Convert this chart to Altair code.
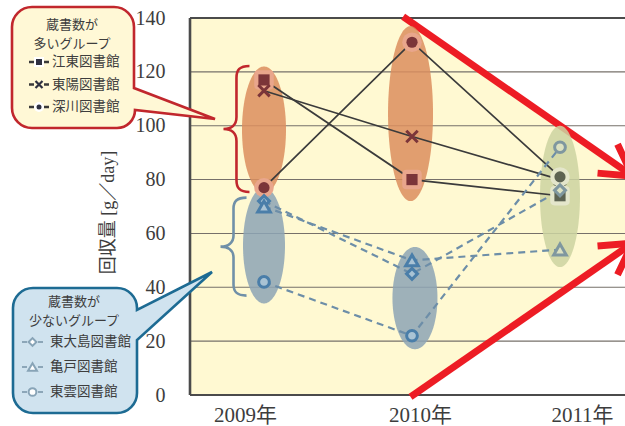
import math

import altair as alt
import numpy as np
import pandas as pd

# ---- data ---------------------------------------------------------------
years = [2009, 2010, 2011]

large_names = ["江東図書館", "東陽図書館", "深川図書館"]
koto = [117, 80, 74]
toyo = [113, 96, 80]
fukagawa = [77, 131, 81]

small_names = ["東大島図書館", "亀戸図書館", "東雲図書館"]
higashi_ojima = [72, 45, 76]
kameido = [70, 50, 54]
shinonome = [42, 22, 92]

y_ticks = [0, 20, 40, 60, 80, 100, 120, 140]
grid_values = [20, 40, 60, 80, 100, 120]
x_ticks = [2009, 2010, 2011]
axis_title = "回収量 [g／day]"
large_title = ["蔵書数が", "多いグループ"]
small_title = ["蔵書数が", "少ないグループ"]

# value spans ringed in each year (centre year, low, high, group)
ring_year = [2009, 2009.99, 2009, 2010.02, 2011]
ring_low = [75, 72, 34, 17, 47.5]
ring_high = [122, 137, 77, 55, 100]
ring_kind = ["多", "多", "少", "少", "後"]

# converging trend arrows: start (year, value) and tip (year, value)
arrow_x0 = [2009.94, 2009.99]
arrow_y0 = [140.5, -0.7]
arrow_x1 = [2011.49, 2011.49]
arrow_y1 = [81.3, 56.4]

# braces beside the 2009 groups (centre year, centre value)
brace_kind = ["多", "少"]
brace_x = [2008.814, 2008.794]
brace_y = [98.8, 55.1]

# ---- layout & styles ------------------------------------------------------
W, H = 435, 377
LEFT, TOP, BOTTOM = 190, 18, 31
PX_PER_YEAR = 148
X_MIN = 2008.5
X_MAX = X_MIN + W / PX_PER_YEAR
Y_MAX = 140
PX_PER_VAL = H / Y_MAX

# year labels sit a little off their marker columns
LABEL_SHIFT_PX = [-19, 8, 22]

FONT_JP = "Noto Sans CJK JP"
FONT_NUM = "Liberation Serif"
TEXT = "#3d3d3d"
RED = "#ED1C24"
PLOT_BG = "#FFF9D2"

RING_HALF_PX = [22, 22.5, 21, 22.5, 20]
RING_COLORS = {"多": "#DC8E5E", "少": "#8DA5B5", "後": "#CCD3A1"}

X_PATH = "M -1 -1 L 1 1 M -1 1 L 1 -1"
ROUND_SQ = ("M -0.55 -1 L 0.55 -1 Q 1 -1 1 -0.55 L 1 0.55 Q 1 1 0.55 1 "
            "L -0.55 1 Q -1 1 -1 0.55 L -1 -0.55 Q -1 -1 -0.55 -1 Z")
CHEVRON = "M -1 -0.577 L 0 0 L -1 0.577"

# brace outlines in pixel units (drawn with size 4 -> 1 unit = 1 px)
BRACE_PATHS = [
    "M 13 -63 C 3 -63 0 -59 0 -51 L 0 -12 C 0 -4 -5 0 -13 0 "
    "C -5 0 0 4 0 12 L 0 51 C 0 59 3 63 13 63",
    "M 13 -49 C 3 -49 0 -45 0 -38 L 0 -11 C 0 -4 -5 0 -13 0 "
    "C -5 0 0 4 0 11 L 0 38 C 0 45 3 49 13 49",
]
BRACE_COLORS = ["#C1272D", "#7090A8"]

# callout outlines in page pixels
BOX_LARGE = ("M 32 7 L 114 7 A 20 20 0 0 1 134 27 L 134 88 L 215 119 L 135 110 "
             "A 18 18 0 0 1 117 128 L 32 128 A 20 20 0 0 1 12 108 L 12 27 "
             "A 20 20 0 0 1 32 7 Z")
BOX_SMALL = ("M 33 288 L 117 288 A 20 20 0 0 1 137 308 L 137 310 L 212 272 "
             "L 137 340 L 137 393 A 20 20 0 0 1 117 413 L 33 413 "
             "A 20 20 0 0 1 13 393 L 13 308 A 20 20 0 0 1 33 288 Z")

xs = alt.Scale(domain=[X_MIN, X_MAX], nice=False, zero=False)
ys = alt.Scale(domain=[0, Y_MAX], nice=False, zero=False)

x_label_at = [yr + s / PX_PER_YEAR for yr, s in zip(x_ticks, LABEL_SHIFT_PX)]

x_axis = alt.Axis(values=x_label_at, labelExpr="round(datum.value) + '年'", grid=False,
                  ticks=False, tickSize=0, domain=False,
                  labelFont=f"{FONT_NUM}, {FONT_JP}", labelFontSize=21,
                  labelColor=TEXT, labelPadding=9, labelFlush=False,
                  labelOverlap=False, title=None, zindex=1)
y_axis = alt.Axis(values=y_ticks, grid=False, ticks=False, tickSize=0,
                  domain=False, labelFont=FONT_NUM, labelFontSize=20,
                  labelColor=TEXT, labelPadding=25, labelFlush=False,
                  labelOverlap=False,
                  title=axis_title, titleFont=f"{FONT_NUM}, {FONT_JP}",
                  titleFontSize=18, titleFontWeight="normal", titleColor=TEXT,
                  titleAngle=270, titleX=-82, titleY=194, titleAlign="center",
                  titleBaseline="middle", zindex=1)


# every layer carries the same axis definition so the shared axes merge cleanly
def X(field):
    return alt.X(field, type="quantitative", scale=xs, axis=x_axis)


def Y(field):
    return alt.Y(field, type="quantitative", scale=ys, axis=y_axis)


def pick(keys, vals):
    """Vega expression choosing a value by datum.name."""
    expr = repr(vals[-1])
    for k, v in zip(reversed(keys[:-1]), reversed(vals[:-1])):
        expr = f"(datum.name === '{k}' ? {v!r} : {expr})"
    return expr


# ---- tables built from the arrays -----------------------------------------
rows = []
for grp, names, seqs in [("多", large_names, [koto, toyo, fukagawa]),
                         ("少", small_names, [higashi_ojima, kameido, shinonome])]:
    for name, seq in zip(names, seqs):
        for yr, v in zip(years, seq):
            rows.append({"name": name, "grp": grp, "year": yr, "value": v})
series = pd.DataFrame(rows)

arrows = pd.DataFrame({"x0": arrow_x0, "y0": arrow_y0,
                       "x1": arrow_x1, "y1": arrow_y1})
arrows["angle"] = [
    math.degrees(math.atan2(-(b1 - b0) * PX_PER_VAL, (a1 - a0) * PX_PER_YEAR)) % 360
    for a0, b0, a1, b1 in zip(arrow_x0, arrow_y0, arrow_x1, arrow_y1)
]

# plain-white wedges outside the arrows
wedges = pd.DataFrame({
    "id": [0, 0, 1, 1],
    "x": [arrow_x0[0], arrow_x1[0], arrow_x0[1], arrow_x1[1]],
    "edge": [arrow_y0[0], arrow_y1[0], arrow_y0[1], arrow_y1[1]],
    "outer": [Y_MAX, Y_MAX, 0, 0],
})

ring_rows = []
angles = np.linspace(0, np.pi, 91)
for k, (cx, lo, hi, kind, hw) in enumerate(
        zip(ring_year, ring_low, ring_high, ring_kind, RING_HALF_PX)):
    mid, half = (lo + hi) / 2, (hi - lo) / 2
    a = hw / PX_PER_YEAR
    for t in angles:
        ring_rows.append({"ring": k, "kind": kind, "x": cx - a * math.cos(t),
                          "top": mid + half * math.sin(t),
                          "bottom": mid - half * math.sin(t)})
rings = pd.DataFrame(ring_rows)

braces = pd.DataFrame({"kind": brace_kind, "x": brace_x, "y": brace_y})

# ---- plot-area layers -------------------------------------------------------
white = alt.Chart(wedges).mark_area(color="white", opacity=1).encode(
    x=X("x"), y=Y("edge"), y2="outer", detail="id:N")

grid = alt.Chart(pd.DataFrame({"v": grid_values})).mark_rule(
    color="#76706a", strokeWidth=1.1).encode(y=Y("v"))

frame_h = alt.Chart(pd.DataFrame({"v": [0, Y_MAX]})).mark_rule(
    color="#4b4b4b", strokeWidth=2.2).encode(y=Y("v"))
frame_v = alt.Chart(pd.DataFrame({"x": [X_MIN]})).mark_rule(
    color="#4b4b4b", strokeWidth=2.6).encode(x=X("x"))

shafts = alt.Chart(arrows).mark_rule(color=RED, strokeWidth=7, strokeCap="butt").encode(
    x=X("x0"), y=Y("y0"), x2="x1", y2="y1")
heads = alt.Chart(arrows).mark_point(
    shape=CHEVRON, size=3700, filled=False, color=RED, strokeWidth=7,
    opacity=1, strokeJoin="miter").encode(
    x=X("x1"), y=Y("y1"), angle=alt.Angle("angle:Q", scale=None))

ring_layer = alt.Chart(rings).mark_area(opacity=0.85).encode(
    x=X("x"), y=Y("top"), y2="bottom", detail="ring:N",
    color=alt.Color("kind:N", scale=alt.Scale(domain=list(RING_COLORS),
                                              range=list(RING_COLORS.values())),
                    legend=None))

brace_layer = alt.Chart(braces).mark_point(
    size=4, filled=False, strokeWidth=2.6, opacity=1).encode(
    x=X("x"), y=Y("y"),
    shape=alt.Shape("kind:N", scale=alt.Scale(domain=brace_kind, range=BRACE_PATHS),
                    legend=None),
    color=alt.Color("kind:N", scale=alt.Scale(domain=brace_kind, range=BRACE_COLORS),
                    legend=None))

base = alt.Chart(series).transform_calculate(
    phase="datum.year == 2011 ? 'late' : 'early'")

solid = base.transform_filter("datum.grp == '多'").mark_line(
    color="#3b3b3b", strokeWidth=1.7).encode(
    x=X("year"), y=Y("value"), detail="name:N")
dashed = base.transform_filter("datum.grp == '少'").mark_line(
    color="#6d8ea8", strokeWidth=2.2, strokeDash=[7, 5]).encode(
    x=X("year"), y=Y("value"), detail="name:N")

phase_dom = ["early", "late"]
dark_scale = alt.Scale(domain=phase_dom, range=["#7B3539", "#5D6352"])
haloed = [large_names[0], large_names[2]]

halos = base.transform_filter(
    alt.FieldOneOfPredicate(field="name", oneOf=haloed)
).mark_point(filled=True, opacity=1, size=380).encode(
    x=X("year"), y=Y("value"),
    shape=alt.Shape("name:N", scale=alt.Scale(domain=haloed, range=[ROUND_SQ, "circle"]),
                    legend=None),
    color=alt.Color("phase:N", scale=alt.Scale(domain=phase_dom,
                                               range=["#E9A68C", "#E4E6CB"]), legend=None))


def x_layer(filter_expr):
    return base.transform_filter(
        f"datum.name == '{large_names[1]}' && {filter_expr}").mark_point(
        shape=X_PATH, filled=False, size=130, strokeWidth=3, opacity=1).encode(
        x=X("year"), y=Y("value"),
        color=alt.Color("phase:N", scale=dark_scale, legend=None))


x_late = x_layer("datum.year == 2011")
x_early = x_layer("datum.year < 2011")

solid_marks = base.transform_filter(
    alt.FieldOneOfPredicate(field="name", oneOf=haloed)
).mark_point(filled=True, opacity=1, size=125).encode(
    x=X("year"), y=Y("value"),
    shape=alt.Shape("name:N", scale=alt.Scale(domain=haloed, range=["square", "circle"]),
                    legend=None),
    color=alt.Color("phase:N", scale=dark_scale, legend=None))

open_marks = base.transform_filter("datum.grp == '少'").transform_calculate(
    sz=pick(small_names, [120, 160, 115])
).mark_point(opacity=1, strokeWidth=3).encode(
    x=X("year"), y=Y("value"),
    shape=alt.Shape("name:N", scale=alt.Scale(domain=small_names,
                                              range=["diamond", "triangle-up", "circle"]),
                    legend=None),
    size=alt.Size("sz:Q", scale=None),
    fill=alt.Fill("phase:N", scale=alt.Scale(domain=phase_dom,
                                             range=["#A9C3D4", "#DCE1C0"]), legend=None),
    stroke=alt.Stroke("phase:N", scale=alt.Scale(domain=phase_dom,
                                                 range=["#4A7EA9", "#7F979F"]), legend=None))


# ---- callouts (placed in page pixels, left of the plot) --------------------
def one_row():
    return alt.Chart(pd.DataFrame({"k": [0]}))


def box(path, fill, stroke):
    return one_row().mark_point(
        shape=path, size=4, filled=True, fill=fill, stroke=stroke,
        strokeWidth=2.6, opacity=1, strokeJoin="miter").encode(
        x=alt.value(-LEFT), y=alt.value(-TOP))


def rows_of(names, y0, dy):
    df = pd.DataFrame({"name": names, "i": list(range(len(names)))})
    return alt.Chart(df).transform_calculate(py=f"{y0 - TOP} + datum.i * {dy}")


def lines_of(texts, cx, y0, dy, align, size):
    return rows_of(texts, y0, dy).mark_text(
        font=FONT_JP, fontSize=size, color=TEXT, align=align,
        baseline="middle").encode(
        x=alt.value(cx - LEFT), y=alt.Y("py:Q", scale=None, axis=None), text="name:N")


def dashes(names, x0, x1, y0, dy, dash, color, width):
    return rows_of(names, y0, dy).mark_rule(
        color=color, strokeWidth=width, strokeDash=dash).encode(
        x=alt.value(x0 - LEFT), x2=alt.value(x1 - LEFT),
        y=alt.Y("py:Q", scale=None, axis=None))


def glyphs(names, cx, y0, dy, shapes, sizes, filled, fill, stroke, width):
    return rows_of(names, y0, dy).transform_calculate(
        sz=pick(names, sizes)).mark_point(
        filled=filled, fill=fill, stroke=stroke, strokeWidth=width, opacity=1).encode(
        x=alt.value(cx - LEFT), y=alt.Y("py:Q", scale=None, axis=None),
        shape=alt.Shape("name:N", scale=alt.Scale(domain=names, range=shapes), legend=None),
        size=alt.Size("sz:Q", scale=None))


LG_Y0, LG_DY = 62, 22.5
SM_Y0, SM_DY = 342, 25

callouts = [
    box(BOX_LARGE, "#FFF8D6", "#C1272D"),
    box(BOX_SMALL, "#D0E3EF", "#1D6B93"),
    lines_of(large_title, 72, 25, 19, "center", 13),
    lines_of(small_title, 74, 302, 19, "center", 13),
    lines_of(large_names, 52, LG_Y0, LG_DY, "left", 13.5),
    lines_of(small_names, 50, SM_Y0, SM_DY, "left", 13.5),
    dashes(large_names, 29, 49, LG_Y0, LG_DY, [5, 10], "#3a3a3a", 2.4),
    dashes(small_names, 22, 43, SM_Y0, SM_DY, [5, 11], "#8CA6B8", 2),
    glyphs(haloed, 39, LG_Y0, 2 * LG_DY, ["square", "circle"], [100, 100],
           True, "white", "white", 0),
    glyphs(haloed, 39, LG_Y0, 2 * LG_DY, ["square", "circle"], [36, 25],
           True, "#2E3040", "#2E3040", 0),
    glyphs([large_names[1]], 39, LG_Y0 + LG_DY, 0, [X_PATH], [49],
           False, "transparent", "#2E3040", 2.2),
    glyphs(small_names, 32.5, SM_Y0, SM_DY, ["diamond", "triangle-up", "circle"],
           [60, 80, 60], True, "white", "#88A4B7", 2),
]

chart = alt.layer(
    white, grid, frame_h, frame_v, shafts, heads, ring_layer, brace_layer,
    solid, dashed, x_late, halos, x_early, solid_marks, open_marks, *callouts
).resolve_scale(
    color="independent", fill="independent", stroke="independent",
    shape="independent", size="independent"
).properties(
    width=W, height=H,
    padding={"left": LEFT, "top": TOP, "right": 0, "bottom": BOTTOM},
    autosize=alt.AutoSizeParams(type="none"),
    background="white",
).configure_view(fill=PLOT_BG, stroke=None)

chart.save("out.html", embed_options={"renderer": "svg", "actions": False})
